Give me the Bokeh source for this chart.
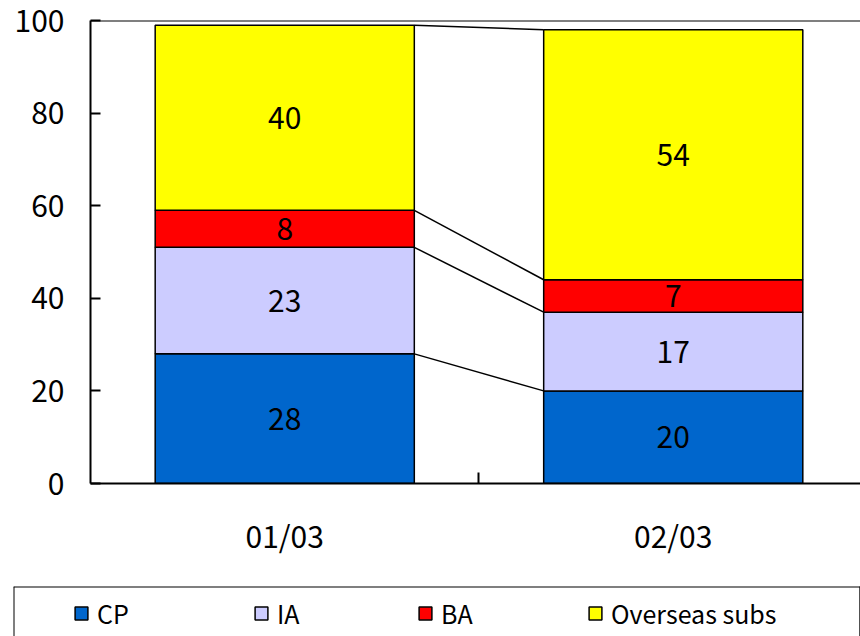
from bokeh.plotting import figure
from bokeh.models import Range1d, FixedTicker, Span, Legend, LegendItem, ColumnDataSource
from bokeh.layouts import column
from bokeh.embed import file_html
from bokeh.resources import INLINE
from bokeh.core.properties import value

# ---- data ----
periods = ["01/03", "02/03"]
series = ["CP", "IA", "BA", "Overseas subs"]
cp = [28, 20]
ia = [23, 17]
ba = [8, 7]
overseas = [40, 54]
y_ticks = [0, 20, 40, 60, 80, 100]

colors = ["#0066CC", "#CCCCFF", "#FF0000", "#FFFF00"]
FONT = "Noto Sans CJK JP"
BAR_W = 0.667
xs = [0.5, 1.5]

p = figure(width=860, height=578, x_range=Range1d(0, 1.982), y_range=Range1d(0, 100),
           output_backend="svg", toolbar_location=None,
           min_border_left=90, min_border_right=0, min_border_top=20, min_border_bottom=95,
           outline_line_color=None, background_fill_color="white", border_fill_color="white")
p.frame_align = False
p.grid.visible = False

cols = ["CP", "IA", "BA", "OS"]
src = ColumnDataSource(dict(x=xs, CP=cp, IA=ia, BA=ba, OS=overseas))
p.vbar_stack(cols, x="x", width=BAR_W, fill_color=colors, line_color="black",
             line_width=1.5, source=src)

# cumulative values
stack = [cp, ia, ba, overseas]
bottoms, tops = [], []
run = [0, 0]
for s in stack:
    bottoms.append(list(run))
    run = [run[j] + s[j] for j in range(2)]
    tops.append(list(run))

# connector lines between the stacks
p.segment(x0=[xs[0] + BAR_W / 2] * 4, x1=[xs[1] - BAR_W / 2] * 4,
          y0=[t[0] for t in tops], y1=[t[1] for t in tops],
          line_color="black", line_width=1.5)

# value labels
lx, ly, lt = [], [], []
for i, s in enumerate(stack):
    for j in range(2):
        lx.append(xs[j])
        ly.append(bottoms[i][j] + s[j] / 2)
        lt.append(str(s[j]))
p.text(x=lx, y=ly, text=lt, text_align="center", text_baseline="middle",
       text_font=value(FONT), text_font_size="30px", text_color="black")

# top border line
p.add_layout(Span(location=100, dimension="width", line_color="black", line_width=2))

# axes
yax = p.yaxis[0]
yax.ticker = FixedTicker(ticks=y_ticks)
yax.axis_line_width = 2
yax.major_tick_in = 10
yax.major_tick_out = 0
yax.major_tick_line_width = 2
yax.minor_tick_line_color = None
yax.major_label_standoff = 26
yax.major_label_text_font = FONT
yax.major_label_text_font_size = "30px"
yax.major_label_text_color = "black"

xax = p.xaxis[0]
xax.ticker = FixedTicker(ticks=xs, minor_ticks=[1.0])
xax.major_label_overrides = {xs[j]: periods[j] for j in range(2)}
xax.axis_line_width = 2
xax.major_tick_in = 0
xax.major_tick_out = 0
xax.minor_tick_in = 11
xax.minor_tick_out = 0
xax.minor_tick_line_width = 2
xax.major_label_standoff = 29
xax.major_label_text_font = FONT
xax.major_label_text_font_size = "30px"
xax.major_label_text_color = "black"

# ---- legend strip ----
p2 = figure(width=860, height=58, x_range=Range1d(0, 1), y_range=Range1d(0, 1),
            output_backend="svg", toolbar_location=None,
            x_axis_location=None, y_axis_location=None,
            min_border_left=13, min_border_right=0, min_border_top=8, min_border_bottom=0,
            outline_line_color=None, background_fill_color="white", border_fill_color="white")
p2.frame_align = False
p2.grid.visible = False
p2.add_layout(Span(location=0, dimension="height", line_color="black", line_width=2))
p2.add_layout(Span(location=1, dimension="width", line_color="black", line_width=2))

leg_x = [60, 240, 404, 574]
for i, name in enumerate(series):
    # legend-only renderer, kept outside the visible range
    r = p2.vbar(x=[5], top=[1], width=0.1, fill_color=colors[i], line_color="black", line_width=1.5)
    leg = Legend(items=[LegendItem(label=name, renderers=[r])], location=(leg_x[i], 5),
                 orientation="horizontal", border_line_color=None, background_fill_alpha=0,
                 padding=0, margin=0, glyph_width=16, glyph_height=16, label_standoff=8,
                 label_text_font=FONT, label_text_font_size="25px", label_text_color="black")
    p2.add_layout(leg)

layout = column(p, p2, spacing=0)
open("out.html", "w").write(file_html(layout, INLINE))
